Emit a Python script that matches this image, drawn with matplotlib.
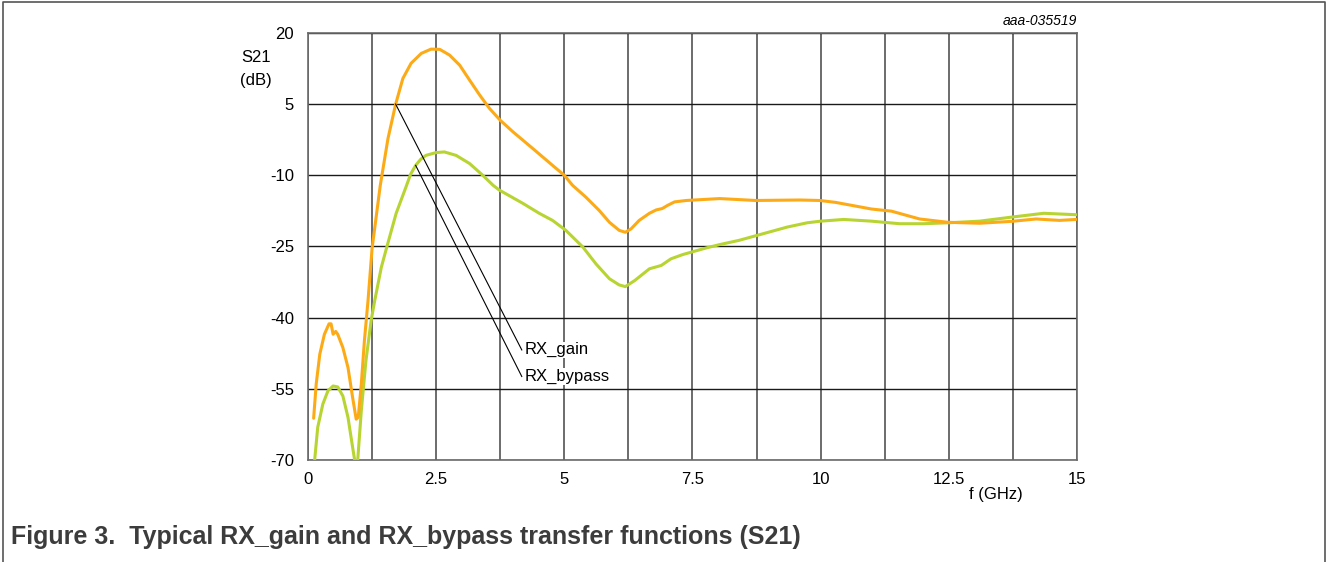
import matplotlib
matplotlib.use("Agg")
import matplotlib.pyplot as plt
from matplotlib.lines import Line2D
import numpy as np

plt.rcParams["font.family"] = ["Liberation Sans", "DejaVu Sans"]
plt.rcParams["axes.unicode_minus"] = False

# RX_gain S21 (dB) vs f (GHz)
gain_f = [0.11, 0.16, 0.23, 0.32, 0.41, 0.45, 0.49, 0.54, 0.58, 0.68, 0.78, 0.87, 0.94, 0.98,
          1.04, 1.10, 1.17, 1.25, 1.41, 1.56, 1.71, 1.85, 2.01, 2.21, 2.40, 2.57, 2.76, 2.96,
          3.15, 3.35, 3.54, 3.75, 4.00, 4.39, 4.77, 5.00, 5.16, 5.42, 5.68, 5.88, 6.07, 6.19,
          6.30, 6.46, 6.66, 6.79, 6.91, 7.02, 7.15, 7.38, 8.03, 8.73, 9.59, 9.98, 10.29, 10.99,
          11.38, 11.93, 12.48, 13.10, 13.73, 14.20, 14.66, 14.98]
gain_db = [-61.2, -54.0, -47.7, -43.5, -41.3, -41.3, -43.5, -42.9, -43.5, -46.3, -50.5, -56.8,
           -61.4, -61.0, -54.0, -44.9, -36.5, -25.4, -12.1, -2.25, 5.0, 10.4, 13.6, 15.7, 16.6,
           16.55, 15.35, 13.2, 10.1, 6.9, 4.1, 1.6, -0.85, -4.4, -7.9, -10.0, -12.1, -14.6,
           -17.4, -19.9, -21.6, -22.0, -21.3, -19.5, -18.0, -17.3, -17.0, -16.3, -15.6, -15.3,
           -14.9, -15.3, -15.2, -15.3, -15.7, -17.1, -17.55, -19.2, -19.9, -20.1, -19.7, -19.2,
           -19.5, -19.3]

# RX_bypass S21 (dB) vs f (GHz)
bypass_f = [0.11, 0.13, 0.19, 0.29, 0.39, 0.49, 0.58, 0.68, 0.78, 0.87, 0.91, 0.94, 0.97,
            1.04, 1.13, 1.23, 1.30, 1.43, 1.53, 1.72, 1.91, 2.00, 2.10, 2.20, 2.30, 2.50,
            2.66, 2.89, 3.15, 3.41, 3.61, 3.73, 4.19, 4.51, 4.77, 5.03, 5.36, 5.62, 5.88,
            6.07, 6.19, 6.37, 6.66, 6.89, 7.08, 7.31, 7.77, 8.03, 8.41, 8.88, 9.35, 9.74,
            10.00, 10.45, 10.99, 11.54, 12.00, 12.50, 13.10, 13.73, 14.35, 14.98]
bypass_db = [-72.0, -70.0, -63.1, -58.2, -55.4, -54.4, -54.6, -56.5, -61.0, -67.3, -70.0,
             -78.0, -70.0, -59.6, -49.1, -40.7, -36.5, -29.4, -25.4, -18.0, -12.5, -9.8, -7.9,
             -6.6, -5.8, -5.2, -5.07, -5.8, -7.5, -10.0, -12.1, -13.1, -15.9, -18.0, -19.5,
             -21.6, -25.1, -28.7, -31.8, -33.1, -33.45, -32.2, -29.7, -29.0, -27.6, -26.7,
             -25.3, -24.6, -23.7, -22.3, -20.9, -20.0, -19.66, -19.3, -19.66, -20.2, -20.2,
             -20.0, -19.66, -18.8, -18.0, -18.3]

x_ticks = [0, 2.5, 5, 7.5, 10, 12.5, 15]
y_ticks = [-70, -55, -40, -25, -10, 5, 20]
x_grid = np.arange(0, 15.01, 1.25)

# leader-line anchors: (point on curve, label position)
labels = ["RX_gain", "RX_bypass"]
label_pts = [(1.71, 5.0), (2.10, -7.9)]
label_pos = [(4.17, -46.8), (4.17, -52.4)]

fig = plt.figure(figsize=(13.27, 5.62), dpi=100)
ax = fig.add_axes([0.2321, 0.1815, 0.5795, 0.7598])

for xv in x_grid:
    ax.axvline(xv, color="#6b6b6b", lw=1.4, zorder=1)
for yv in y_ticks:
    ax.axhline(yv, color="#1a1a1a", lw=1.0, zorder=1)

ax.plot(bypass_f, bypass_db, color="#b8d432", lw=2.2, zorder=3,
        solid_joinstyle="round", solid_capstyle="round")
ax.plot(gain_f, gain_db, color="#fcab17", lw=2.2, zorder=4,
        solid_joinstyle="round", solid_capstyle="round")

for lab, pt, pos in zip(labels, label_pts, label_pos):
    ax.plot([pt[0], pos[0]], [pt[1], pos[1]], color="black", lw=0.8, zorder=5)
    ax.text(pos[0] + 0.05, pos[1], lab, fontsize=12, ha="left", va="center", zorder=6,
            bbox=dict(facecolor="white", edgecolor="none", pad=0.5))

ax.set_xlim(0, 15)
ax.set_ylim(-70, 20)
ax.set_xticks(x_ticks)
ax.set_xticklabels([f"{v:g}" for v in x_ticks])
ax.set_yticks(y_ticks)
ax.tick_params(length=0, labelsize=12, pad=9)
ax.tick_params(axis="y", pad=10)
for s in ax.spines.values():
    s.set_color("#6b6b6b")
    s.set_linewidth(1.2)

fig.text(271 / 1327, 1 - 57 / 562, "S21", fontsize=12, ha="right", va="center")
fig.text(272 / 1327, 1 - 80 / 562, "(dB)", fontsize=12, ha="right", va="center")
fig.text(1023 / 1327, 1 - 494 / 562, "f (GHz)", fontsize=12, ha="right", va="center")
fig.text(1077 / 1327, 1 - 21 / 562, "aaa-035519", fontsize=10, style="italic",
         ha="right", va="center")
fig.text(11 / 1327, 1 - 544 / 562, "Figure 3.  Typical RX_gain and RX_bypass transfer functions (S21)",
         fontsize=18, fontweight="bold", color="#3c3c3c", ha="left", va="baseline")

# figure frame (open at the bottom)
W, H = 1327, 562
frame_x = [3 / W, 3 / W, 1325 / W, 1325 / W]
frame_y = [0, 1 - 1.5 / H, 1 - 1.5 / H, 0]
fig.add_artist(Line2D(frame_x, frame_y, transform=fig.transFigure, color="#555555", lw=1.2))

fig.savefig("out.png", dpi=100)
